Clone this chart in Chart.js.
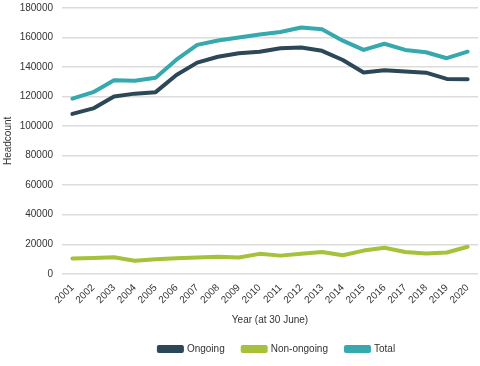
<!DOCTYPE html>
<html>
<head>
<meta charset="utf-8">
<script src="https://cdn.jsdelivr.net/npm/chart.js@4/dist/chart.umd.min.js"></script>
<style>
  body { margin: 0; background: #fff; }
  #wrap { width: 480px; height: 366px; }
</style>
</head>
<body>
<div id="wrap"><canvas id="chart" width="480" height="366"></canvas></div>
<script>
const years = ['2001','2002','2003','2004','2005','2006','2007','2008','2009','2010',
               '2011','2012','2013','2014','2015','2016','2017','2018','2019','2020'];
const ongoing = [108300, 112000, 120000, 122000, 123000, 134600, 143000, 147000, 149300, 150400,
                 152700, 153200, 151000, 144800, 136300, 137800, 137000, 136200, 132000, 131800];
const nonOngoing = [10400, 10700, 11200, 8800, 9800, 10600, 11000, 11500, 11000, 13500,
                    12300, 13500, 14800, 12600, 15700, 17600, 14700, 13800, 14400, 18300];
const total = [118600, 123000, 131000, 130800, 132800, 145000, 155000, 158000, 160000, 162000,
               163700, 166800, 165600, 157900, 151600, 155800, 151600, 150000, 146000, 150400];
const yTicks = [0, 20000, 40000, 60000, 80000, 100000, 120000, 140000, 160000, 180000];

const FONT = '"Liberation Sans Narrow", "Liberation Sans", Arial, sans-serif';
const TEXT = '#333';

// legend sits centred under the plot area rather than the whole canvas
const shiftLegend = {
  id: 'shiftLegend',
  afterLayout(chart) {
    const dx = 37;
    chart.legend.left += dx;
    chart.legend.right += dx;
  }
};

new Chart(document.getElementById('chart'), {
  type: 'line',
  data: {
    labels: years,
    datasets: [
      { label: 'Ongoing', data: ongoing, borderColor: '#2c4755', backgroundColor: '#2c4755' },
      { label: 'Non-ongoing', data: nonOngoing, borderColor: '#a5c23a', backgroundColor: '#a5c23a' },
      { label: 'Total', data: total, borderColor: '#35a9ae', backgroundColor: '#35a9ae' }
    ]
  },
  options: {
    responsive: false,
    animation: false,
    layout: { padding: { left: 2, right: 2, top: 0, bottom: 2 } },
    elements: {
      line: { borderWidth: 4, tension: 0, borderCapStyle: 'round', borderJoinStyle: 'round' },
      point: { radius: 0 }
    },
    plugins: {
      legend: {
        position: 'bottom',
        labels: {
          font: { family: FONT, size: 10 },
          color: TEXT,
          boxWidth: 23,
          boxHeight: 4,
          padding: 18
        }
      },
      tooltip: { enabled: false }
    },
    scales: {
      x: {
        offset: true,
        afterFit: s => { s.paddingLeft = 0; s.paddingRight = 0; },
        grid: { display: false },
        border: { display: false },
        ticks: {
          font: { family: FONT, size: 10 },
          color: TEXT,
          autoSkip: false,
          minRotation: 45,
          maxRotation: 45,
          padding: 0
        },
        title: {
          display: true,
          text: 'Year (at 30 June)',
          font: { family: FONT, size: 10 },
          color: TEXT,
          padding: { top: 8, bottom: 0 }
        }
      },
      y: {
        min: 0,
        max: 180000,
        afterBuildTicks: axis => { axis.ticks = yTicks.map(v => ({ value: v })); },
        afterFit: s => { s.width = 60; s.paddingTop = 8; s.paddingBottom = 0; },
        grid: { color: '#dcdcdc', lineWidth: 1.5, drawTicks: false },
        border: { display: false },
        ticks: {
          font: { family: FONT, size: 10 },
          color: TEXT,
          padding: 9,
          callback: v => String(v)
        },
        title: {
          display: true,
          text: 'Headcount',
          font: { family: FONT, size: 10 },
          color: TEXT,
          padding: { top: 0, bottom: 6 }
        }
      }
    }
  },
  plugins: [shiftLegend]
});
</script>
</body>
</html>
